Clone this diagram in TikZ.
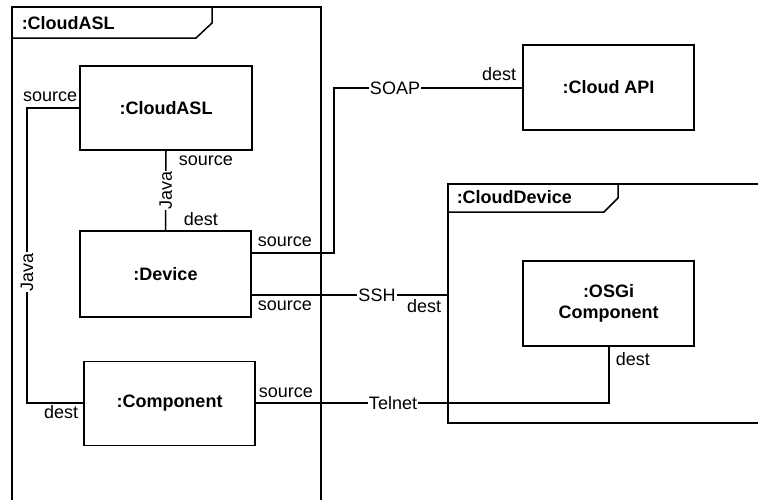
\documentclass[tikz,border=0pt]{standalone}
\usepackage{fontspec}
\setmainfont{Liberation Sans}
\usetikzlibrary{calc}
\begin{document}
\begin{tikzpicture}[x=1pt,y=-1pt,
  line width=1.5pt,
  every node/.style={font=\fontsize{18}{21}\selectfont},
  part/.style={draw, line width=1.5pt, minimum width=171pt, minimum height=85pt,
    inner sep=2pt, align=center, font=\fontsize{18}{21}\selectfont\bfseries},
  role/.style={inner sep=0pt},
  conn/.style={fill=white, inner sep=1pt},
  framelbl/.style={anchor=west, inner sep=0pt, font=\fontsize{18}{21}\selectfont\bfseries}]
\useasboundingbox (0,0) rectangle (758,499);
\begin{scope}
\clip (0,0) rectangle (758,499);

% enclosing frame :CloudASL
\draw (12,500) -- (12,7) -- (321,7) -- (321,500);
\draw (12,38) -- (196,38) -- (212,23) -- (212,7);
\node[framelbl] (fasl) at (21,23) {:CloudASL};

% enclosing frame :CloudDevice
\draw (760,184) -- (448,184) -- (448,423) -- (760,423);
\draw (448,212) -- (604,212) -- (618,198) -- (618,184);
\node[framelbl] (fdev) at (456,197) {:CloudDevice};
\end{scope}

% parts
\node[part, minimum width=172pt, minimum height=84pt] (asl) at (166,108) {:CloudASL};
\node[part, minimum height=86pt] (dev) at (165.5,274) {:Device};
\node[part, minimum height=84pt] (comp) at (169.5,403.5) {:Component};
\node[part] (api) at (608.5,87.5) {:Cloud API};
\node[part] (osgi) at (608.5,303.5) {:OSGi\\Component};

% connection points
\coordinate (devA) at (dev.east |- 0,253);
\coordinate (devB) at (dev.east |- 0,295);
\coordinate (cdIn) at (448,295);
\coordinate (aslW) at (asl.west |- 0,108);
\coordinate (compW) at (comp.west |- 0,403);
\coordinate (compE) at (comp.east |- 0,403);
\coordinate (osgiS) at (609,346);

% Java: :CloudASL -> :Device
\draw (asl.south) -- (dev.north) node[conn, midway, rotate=90, fill=white, inner sep=0.5pt] (j1) {Java};
\node[role, anchor=west] (s1) at (178,161) {source};
\node[role, anchor=west] (d1) at (183,219) {dest};

% Java: :CloudASL -> :Component
\draw (aslW) -- (27,108) -- (27,403) -- (compW);
\node[conn, rotate=90, inner sep=0.5pt] (j2) at (27,272) {Java};
\node[role, anchor=east] (s2) at (78,97) {source};
\node[role, anchor=east] (d2) at (79,412) {dest};

% SOAP: :Device -> :Cloud API
\draw (devA) -- (334,253) -- (334,88) -- (api.west |- 0,88);
\node[conn] (soap) at (395,88) {SOAP};
\node[role, anchor=west] (s3) at (257,242) {source};
\node[role, anchor=east] (d3) at (517,74) {dest};

% SSH: :Device -> :CloudDevice
\draw (devB) -- (cdIn);
\node[conn] (ssh) at (377,295) {SSH};
\node[role, anchor=west] (s4) at (257,306) {source};
\node[role, anchor=east] (d4) at (442,306) {dest};

% Telnet: :Component -> :OSGi Component
\draw (compE) -- (609,403) -- (osgiS);
\node[conn] (tel) at (393,403) {Telnet};
\node[role, anchor=west] (s5) at (258,393) {source};
\node[role, anchor=west] (d5) at (615,359) {dest};
\end{tikzpicture}
\end{document}
